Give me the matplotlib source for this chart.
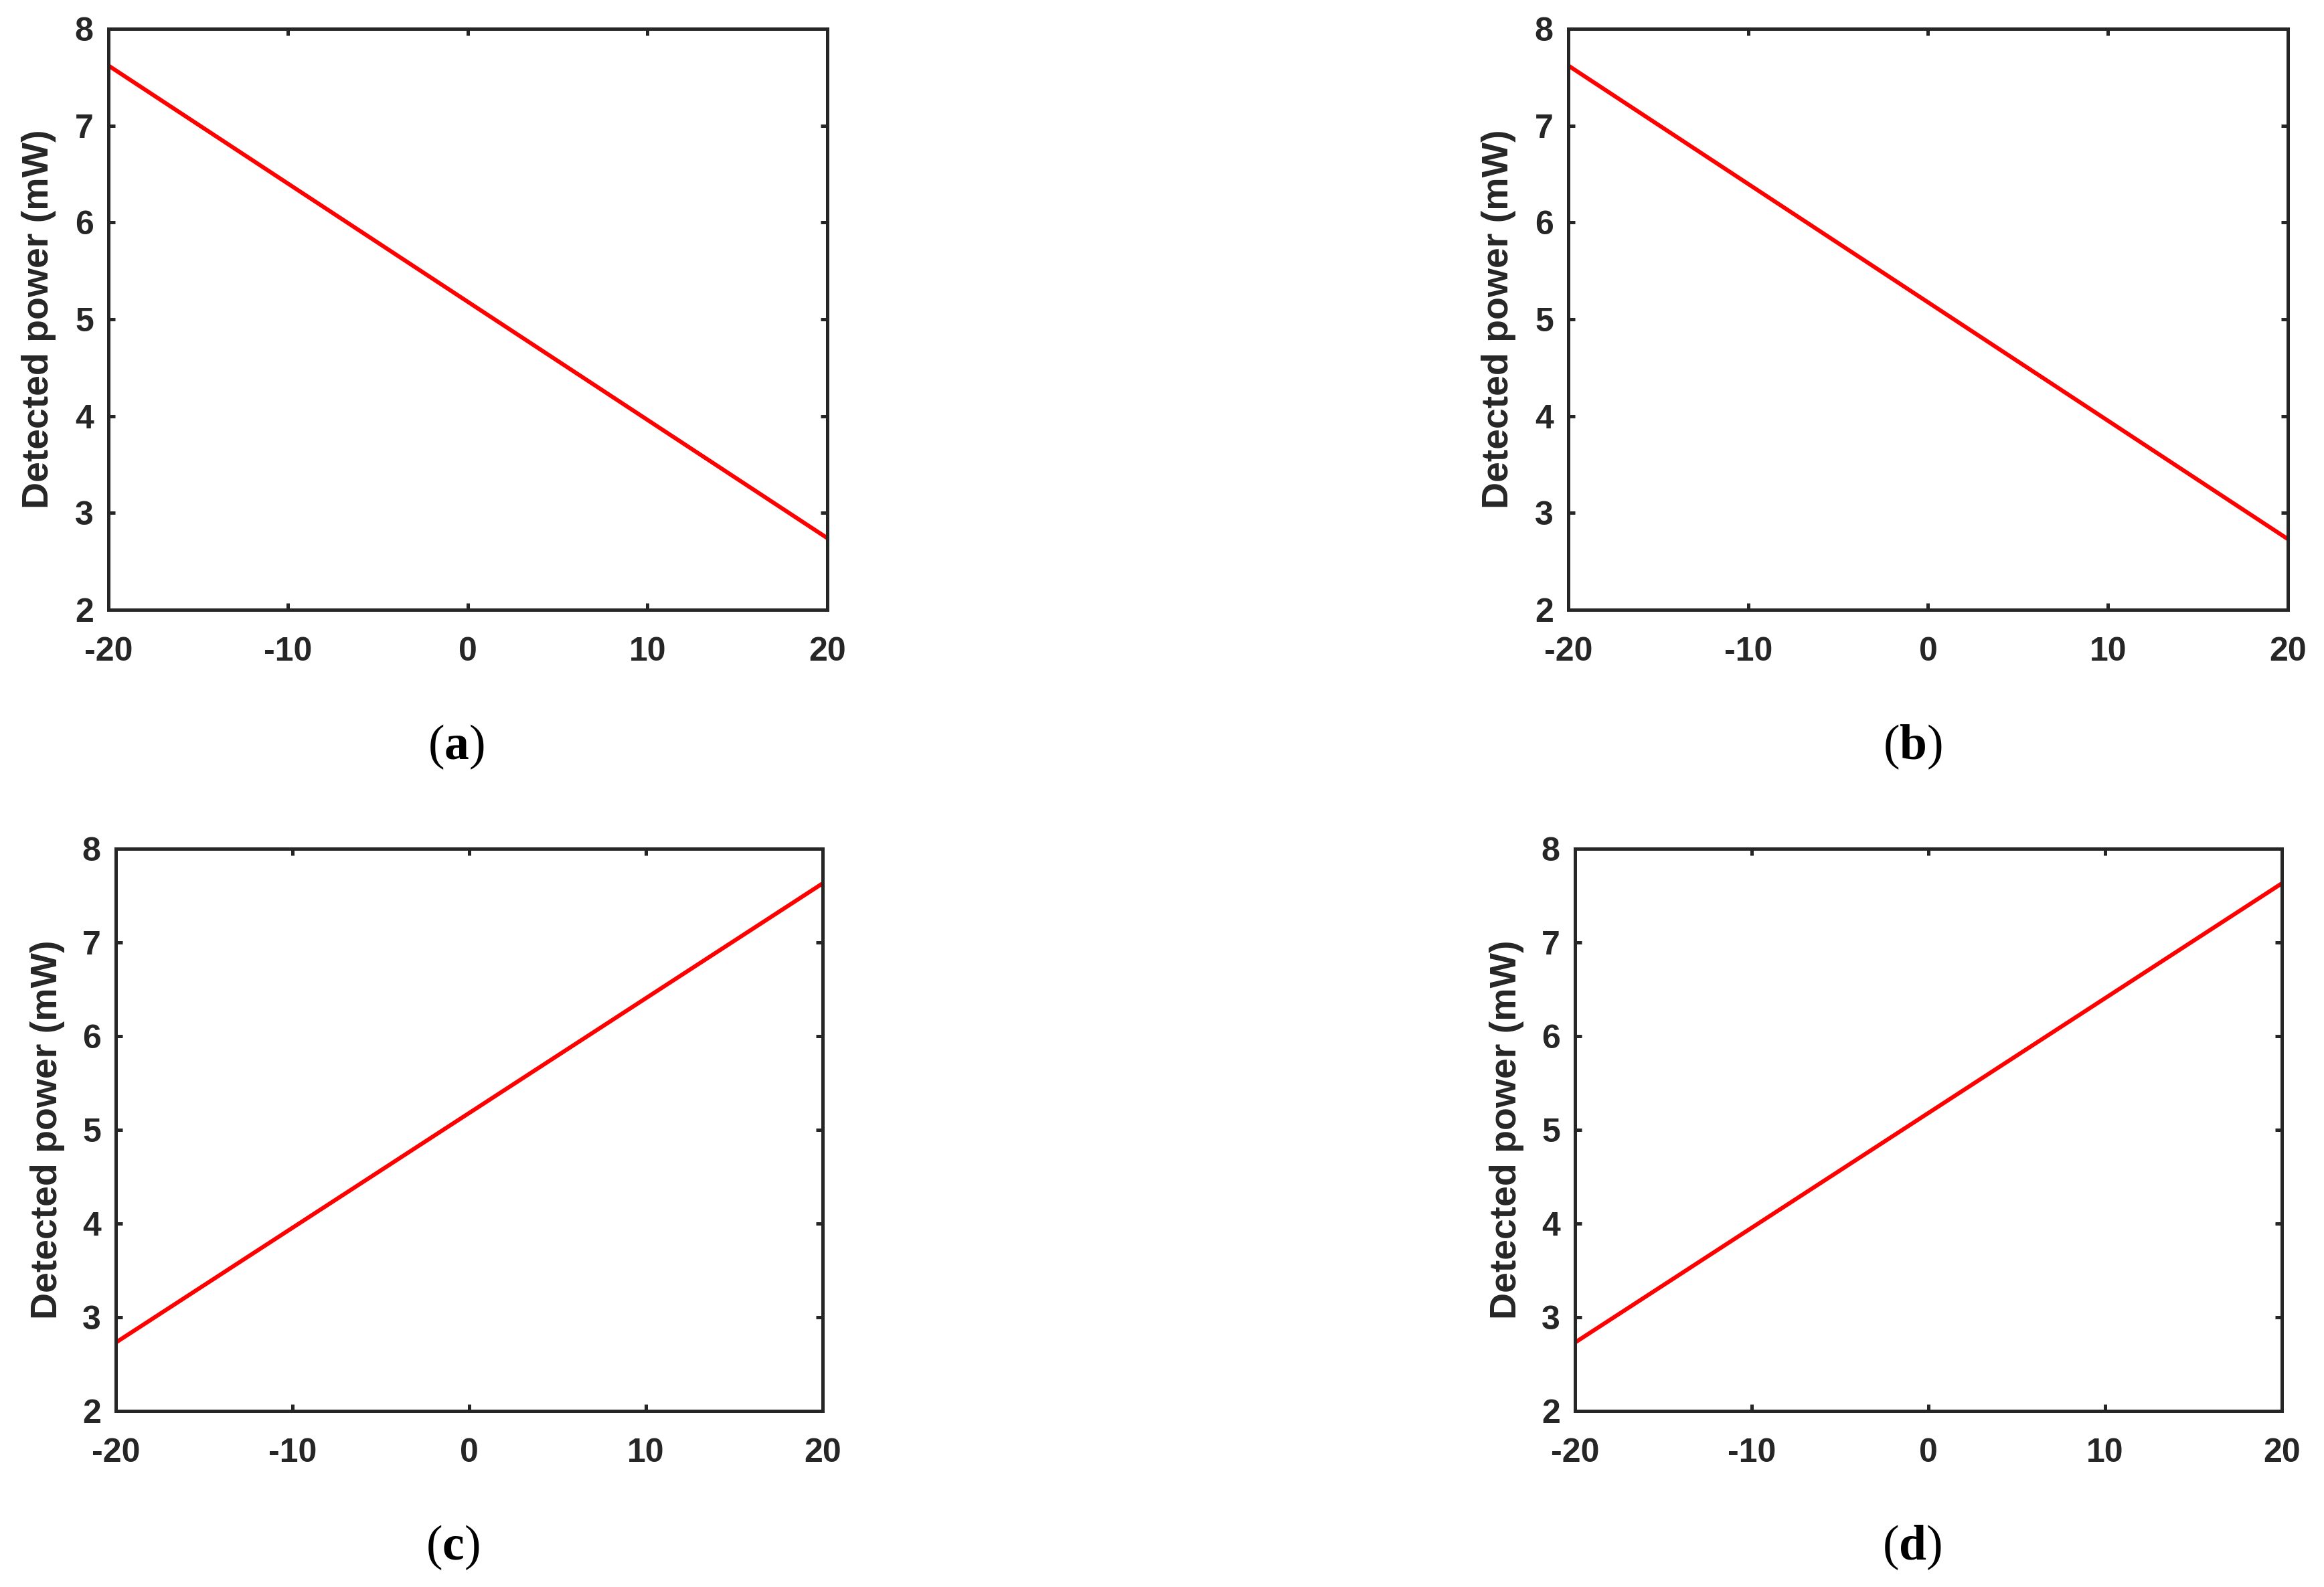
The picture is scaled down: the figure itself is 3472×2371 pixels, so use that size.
import matplotlib
matplotlib.use("Agg")
import matplotlib.pyplot as plt

# offset (x) and detected power (mW)
offset = [-20, 20]
power_a = [7.62, 2.74]
power_b = [7.62, 2.73]
power_c = [2.73, 7.63]
power_d = [2.73, 7.63]
panel_labels = ["a", "b", "c", "d"]
xticks = [-20, -10, 0, 10, 20]
yticks = [2, 3, 4, 5, 6, 7, 8]

plt.rcParams["font.family"] = ["Liberation Sans", "DejaVu Sans"]
plt.rcParams["axes.unicode_minus"] = False
plt.rcParams["mathtext.fontset"] = "custom"
plt.rcParams["mathtext.bf"] = "Liberation Serif:bold"
plt.rcParams["mathtext.rm"] = "Liberation Serif"

W, H = 3473, 2371
fig = plt.figure(figsize=(W / 100, H / 100), dpi=100)

# axes boxes in pixels: left, right, top, bottom
boxes = [
    (162, 1236, 43, 911),
    (2343, 3418, 43, 911),
    (173, 1229, 1268, 2108),
    (2353, 3409, 1268, 2108),
]
captions_xy = [(681, 1116), (2857, 1116), (676, 2312), (2856, 2312)]
dark = "#262626"

for box, ys, lab, cxy in zip(boxes, [power_a, power_b, power_c, power_d],
                             panel_labels, captions_xy):
    l, r, t, b = box
    ax = fig.add_axes([l / W, 1 - b / H, (r - l) / W, (b - t) / H])
    ax.plot(offset, ys, color="#ff0000", lw=4.4, solid_capstyle="butt")
    ax.set_xlim(-20, 20)
    ax.set_ylim(2, 8)
    ax.set_xticks(xticks)
    ax.set_yticks(yticks)
    for s in ax.spines.values():
        s.set_linewidth(3.6)
        s.set_color(dark)
    ax.tick_params(direction="in", length=7, width=3.6, color=dark,
                   top=True, right=True, labelsize=36, labelcolor=dark)
    ax.tick_params(axis="x", pad=29)
    ax.tick_params(axis="y", pad=16)
    for tl in ax.get_xticklabels() + ax.get_yticklabels():
        tl.set_fontweight("bold")
    ax.set_ylabel("Detected power (mW)", fontsize=40, fontweight="bold",
                  color=dark)
    ax.yaxis.label.set_va("center")
    ax.yaxis.set_label_coords(-0.097, 0.5)
    fig.text(cxy[0] / W, 1 - cxy[1] / H, "(" + r"$\mathbf{" + lab + "}$" + ")",
             family="Liberation Serif", fontsize=53, ha="center", va="center",
             color="black")

fig.savefig("out.png", dpi=100, facecolor="white")
